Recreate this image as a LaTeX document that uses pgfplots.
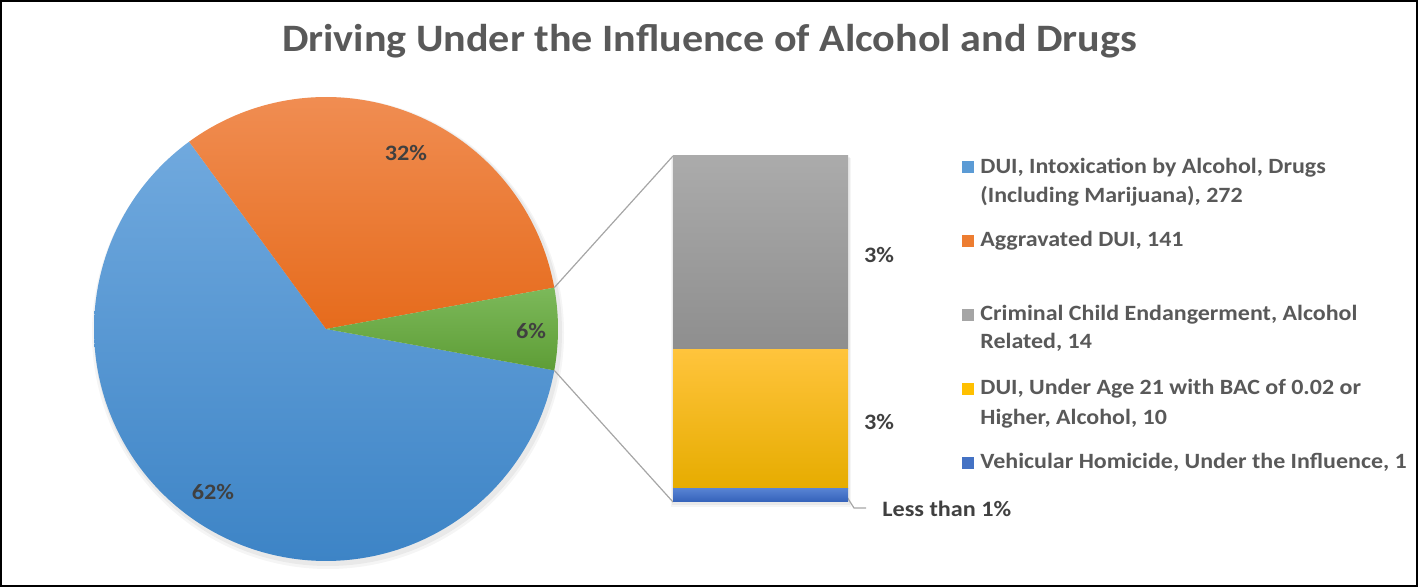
\documentclass[border=0pt]{standalone}
\usepackage{pgfplots}
\pgfplotsset{compat=1.18}
\usepackage{fontspec}
\setmainfont{Carlito}
\newfontfamily\titfont{Carlito}[FakeStretch=1.085]
\newfontfamily\legfont{Carlito}[FakeStretch=1.1]
\definecolor{blueT}{HTML}{70A9DE}
\definecolor{blueB}{HTML}{3D84C6}
\definecolor{oranT}{HTML}{F08D52}
\definecolor{oranB}{HTML}{E66B1C}
\definecolor{greenT}{HTML}{7CB95A}
\definecolor{greenB}{HTML}{5E9D36}
\definecolor{grayT}{HTML}{ABABAB}
\definecolor{grayB}{HTML}{8E8E8E}
\definecolor{yelT}{HTML}{FFC43C}
\definecolor{yelB}{HTML}{E6AC00}
\definecolor{dbT}{HTML}{5884D4}
\definecolor{dbB}{HTML}{3461B9}
\definecolor{cBlue}{HTML}{5B9BD5}
\definecolor{cOran}{HTML}{ED7D31}
\definecolor{cGray}{HTML}{A5A5A5}
\definecolor{cYel}{HTML}{FFC000}
\definecolor{cDb}{HTML}{4472C4}
\definecolor{titleC}{HTML}{595959}
\definecolor{labC}{HTML}{404040}
\definecolor{lineC}{HTML}{A6A6A6}
\begin{document}
\begin{tikzpicture}
% data: DUI intoxication 272, Aggravated 141, Criminal child 14, Under 21 10, Vehicular homicide 1
\pgfmathsetmacro\tot{272+141+14+10+1}
\pgfmathsetmacro\half{(14+10+1)/\tot*180}
\pgfmathsetmacro\mhalf{-\half}
\pgfmathsetmacro\orEnd{\half+141/\tot*360}
\pgfmathsetmacro\blEnd{360-\half}
\begin{axis}[width=709.5pt,height=294pt,scale only axis,
  xmin=0,xmax=1419,ymin=0,ymax=588,hide axis,clip=false]
\path (axis cs:0,0) rectangle (axis cs:1419,588);
\draw[black,line width=1pt] (axis cs:1,1.5) rectangle (axis cs:1417,587);
% soft shadows
\fill[black,opacity=0.04] (axis cs:328,255) circle[radius=118pt];
\fill[black,opacity=0.05] (axis cs:328,256) circle[radius=117pt];
\fill[black,opacity=0.04] (axis cs:671,81) rectangle (axis cs:851,430);
\fill[black,opacity=0.05] (axis cs:672,83) rectangle (axis cs:850,431);
% pie
\addplot[draw=none,top color=blueT,bottom color=blueB,domain=\orEnd:\blEnd,samples=120]
  ({326+232*cos(x)},{259+232*sin(x)}) -- (axis cs:326,259) -- cycle;
\addplot[draw=none,top color=oranT,bottom color=oranB,domain=\half:\orEnd,samples=80]
  ({326+232*cos(x)},{259+232*sin(x)}) -- (axis cs:326,259) -- cycle;
\addplot[draw=none,top color=greenT,bottom color=greenB,domain=\mhalf:\half,samples=30]
  ({326+232*cos(x)},{259+232*sin(x)}) -- (axis cs:326,259) -- cycle;
% connector lines
\addplot[lineC,line width=0.6pt] coordinates {(554.3,300.4) (673,432)};
\addplot[lineC,line width=0.6pt] coordinates {(554.3,217.6) (673,86)};
\addplot[lineC,line width=0.6pt] coordinates {(847,91) (854,80) (866,80)};
\coordinate (barSW) at (axis cs:673,86);
% labels
\begin{scope}[font=\legfont\fontsize{11}{13}\selectfont\bfseries,text=labC]
\node at (axis cs:406,435) {32\%};
\node at (axis cs:531,257) {6\%};
\node at (axis cs:213,96) {62\%};
\node at (axis cs:879,333) {3\%};
\node at (axis cs:879,166) {3\%};
\node[anchor=west,inner sep=0pt] at (axis cs:882,79) {Less than 1\%};
\end{scope}
\node[anchor=base,font=\titfont\fontsize{19.4}{22}\selectfont\bfseries,text=titleC,inner sep=0pt] at (axis cs:709.5,536) {Driving Under the Influence of Alcohol and Drugs};
% legend
\begin{scope}[every node/.style={anchor=base west,inner sep=0pt,font=\legfont\fontsize{10.9}{13}\selectfont\bfseries,text=titleC}]
\fill[cBlue] (axis cs:962,414.7) rectangle (axis cs:974,426.7);
\node at (axis cs:980,414.7) {DUI, Intoxication by Alcohol, Drugs};
\node at (axis cs:980,385.3) {(Including Marijuana), 272};
\fill[cOran] (axis cs:962,341.3) rectangle (axis cs:974,353.3);
\node at (axis cs:980,341.3) {Aggravated DUI, 141};
\fill[cGray] (axis cs:962,267) rectangle (axis cs:974,279);
\node at (axis cs:980,267) {Criminal Child Endangerment, Alcohol};
\node at (axis cs:980,239) {Related, 14};
\fill[cYel] (axis cs:962,193) rectangle (axis cs:974,205);
\node at (axis cs:980,193) {DUI, Under Age 21 with BAC of 0.02 or};
\node at (axis cs:980,163) {Higher, Alcohol, 10};
\fill[cDb] (axis cs:962,119) rectangle (axis cs:974,131);
\node at (axis cs:980,119) {Vehicular Homicide, Under the Influence, 1};
\end{scope}
\end{axis}
\begin{axis}[at={(barSW)},anchor=south west,width=87.5pt,height=173pt,
  scale only axis,hide axis,ybar stacked,bar width=87.5pt,
  xmin=0.5,xmax=1.5,ymin=0,ymax=25,clip=false]
\addplot[draw=none,top color=dbT,bottom color=dbB] coordinates {(1,1)};
\addplot[draw=none,top color=yelT,bottom color=yelB] coordinates {(1,10)};
\addplot[draw=none,top color=grayT,bottom color=grayB] coordinates {(1,14)};
\end{axis}
\end{tikzpicture}
\end{document}
